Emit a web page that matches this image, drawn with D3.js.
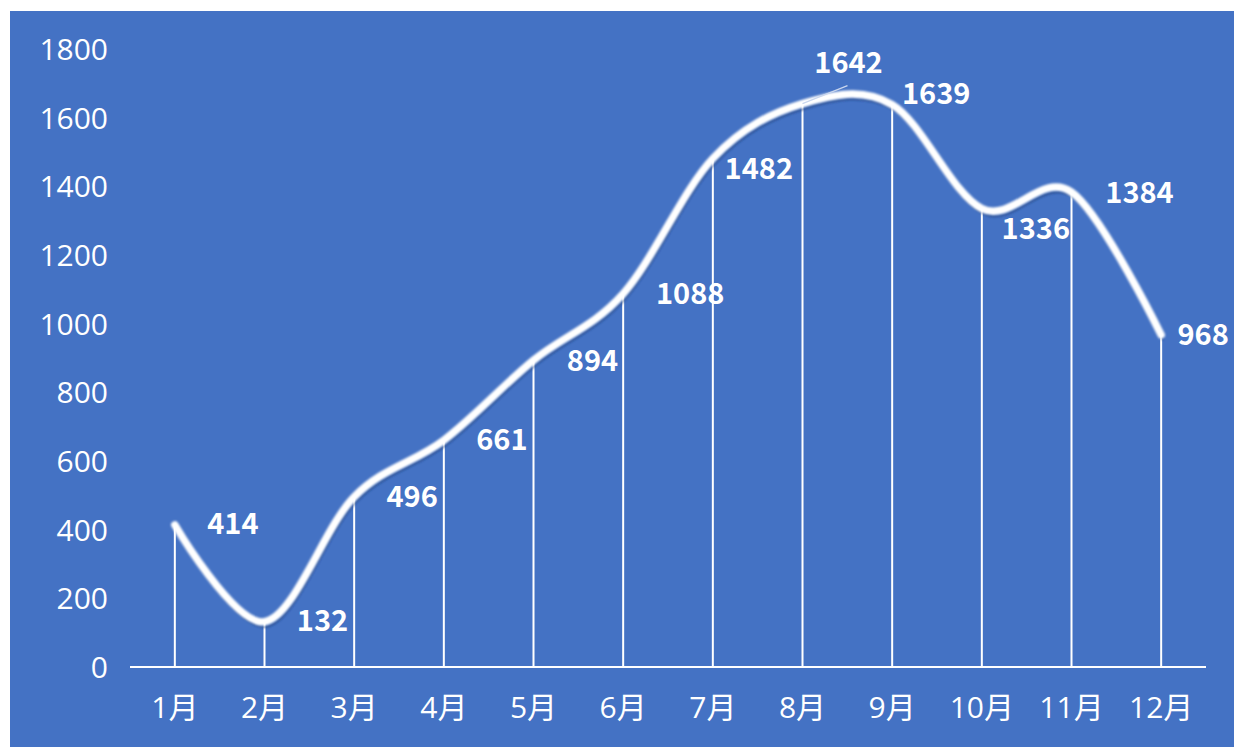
<!DOCTYPE html>
<html>
<head>
<meta charset="utf-8">
<script src="https://cdn.jsdelivr.net/npm/d3@7"></script>
<style>
html,body{margin:0;padding:0;background:#fff;}
svg{display:block;}
</style>
</head>
<body>
<script>
const months = ["1月","2月","3月","4月","5月","6月","7月","8月","9月","10月","11月","12月"];
const values = [414,132,496,661,894,1088,1482,1642,1639,1336,1384,968];
const yTicks = [0,200,400,600,800,1000,1200,1400,1600,1800];
// label offsets (px) relative to each point
const labelDx = [58,58,58,58,59,67,46,46,44,54,68,42];
const labelDy = [-1,-1,0,-1,0,0,10,-41,-11,20,0,0];

const W = 1234, H = 747;
const tickFont = "'Open Sans','Noto Sans CJK SC',sans-serif";
const labelFont = "'Noto Sans CJK SC','Open Sans',sans-serif";
const svg = d3.select("body").append("svg").attr("width", W).attr("height", H);

svg.append("rect").attr("x", 10).attr("y", 11).attr("width", W - 10).attr("height", H - 11).attr("fill", "#4472C4");

const x = d3.scaleBand().domain(months).range([130, 1206]);
const y = d3.scaleLinear().domain([0, 1800]).range([667, 49.4]);

const defs = svg.append("defs");
const blur = defs.append("filter").attr("id", "soft").attr("x", "-10%").attr("y", "-10%").attr("width", "120%").attr("height", "120%");
blur.append("feGaussianBlur").attr("stdDeviation", 1.1);
const sh = defs.append("filter").attr("id", "shadow").attr("x", "-10%").attr("y", "-10%").attr("width", "120%").attr("height", "120%");
sh.append("feGaussianBlur").attr("stdDeviation", 1.2);

// y tick labels
svg.append("g").selectAll("text").data(yTicks).join("text")
  .attr("x", 108).attr("y", d => y(d)).attr("dy", "0.36em")
  .attr("text-anchor", "end").attr("fill", "#fff")
  .attr("font-family", tickFont).attr("font-size", 30)
  .text(d => d);

// x axis line
svg.append("line").attr("x1", 130).attr("x2", 1206).attr("y1", y(0)).attr("y2", y(0))
  .attr("stroke", "#fff").attr("stroke-width", 2.2);

// x tick labels
svg.append("g").selectAll("text").data(months).join("text")
  .attr("x", d => x(d) + x.bandwidth() / 2).attr("y", 707).attr("dy", "0.36em")
  .attr("text-anchor", "middle").attr("fill", "#fff")
  .attr("font-family", tickFont).attr("font-size", 30)
  .text(d => d);

const pts = months.map((m, i) => ({m, v: values[i], i, px: x(m) + x.bandwidth() / 2, py: y(values[i])}));

// drop lines
svg.append("g").selectAll("line").data(pts).join("line")
  .attr("x1", d => d.px).attr("x2", d => d.px)
  .attr("y1", d => d.py).attr("y2", y(0))
  .attr("stroke", "#fff").attr("stroke-width", 2);

const line = d3.line().x(d => d.px).y(d => d.py).curve(d3.curveCardinal.tension(0));

// shadow
svg.append("path").datum(pts).attr("d", line)
  .attr("transform", "translate(2,5)")
  .attr("fill", "none").attr("stroke", "#1f3d7a").attr("stroke-opacity", 0.6)
  .attr("stroke-width", 2.2).attr("filter", "url(#shadow)");

// main curve
svg.append("path").datum(pts).attr("d", line)
  .attr("fill", "none").attr("stroke", "#fff").attr("stroke-width", 7.5)
  .attr("stroke-linecap", "round").attr("filter", "url(#soft)");

// leader line for 1642
const p8 = pts[7];
svg.append("line").attr("x1", p8.px).attr("y1", p8.py).attr("x2", p8.px + 45).attr("y2", p8.py - 18)
  .attr("stroke", "#c9d6ee").attr("stroke-width", 1.5);

// data labels
svg.append("g").selectAll("text").data(pts).join("text")
  .attr("x", d => d.px + labelDx[d.i]).attr("y", d => d.py + labelDy[d.i]).attr("dy", "0.36em")
  .attr("text-anchor", "middle").attr("fill", "#fff")
  .attr("font-family", labelFont).attr("font-size", 29).attr("font-weight", "bold")
  .text(d => d.v);
</script>
</body>
</html>
